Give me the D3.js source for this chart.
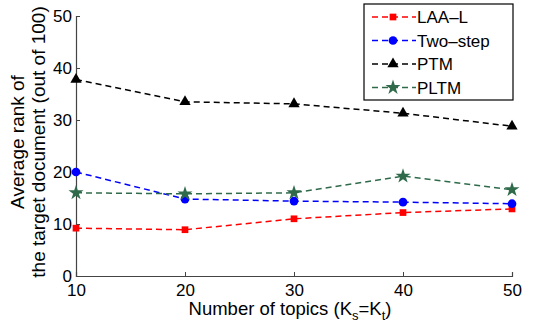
<!DOCTYPE html>
<html>
<head>
<meta charset="utf-8">
<script src="https://cdn.jsdelivr.net/npm/d3@7"></script>
<style>
  body { margin: 0; background: #fff; }
  text { font-family: "Liberation Sans", Arial, sans-serif; fill: #000; }
</style>
</head>
<body>
<div id="app"></div>
<script>
const TOPICS = [10, 20, 30, 40, 50];
const LAA_L = [9.2, 8.9, 11.0, 12.2, 12.9];
const TWO_STEP = [20.0, 14.8, 14.4, 14.2, 13.9];
const PTM = [37.8, 33.5, 33.1, 31.3, 28.8];
const PLTM = [16.0, 15.8, 16.0, 19.2, 16.6];
const Y_TICKS = [0, 10, 20, 30, 40, 50];

const series = [
  {name: "LAA\u2013L", values: LAA_L, color: "#ff0000", symbol: d3.symbolSquare, size: 45},
  {name: "Two\u2013step", values: TWO_STEP, color: "#0000ff", symbol: d3.symbolCircle, size: 60},
  {name: "PTM", values: PTM, color: "#000000", symbol: d3.symbolTriangle, size: 55},
  {name: "PLTM", values: PLTM, color: "#2f6b4a", symbol: d3.symbolStar, size: 70}
];

const W = 534, H = 325;
const margin = {top: 16, right: 22, bottom: 49, left: 76}
    , width = W - margin.left - margin.right
    , height = H - margin.top - margin.bottom;

const x = d3.scaleLinear().domain([10, 50]).range([0, width]);
const y = d3.scaleLinear().domain([0, 50]).range([height, 0]);

const svg = d3.select("#app").append("svg")
    .attr("width", W)
    .attr("height", H)
  .append("g")
    .attr("transform", `translate(${margin.left}, ${margin.top})`);

// axes (matlab style, ticks pointing inward)
const xAxis = svg.append("g")
    .attr("transform", `translate(0, ${height})`)
    .call(d3.axisBottom(x).tickValues(TOPICS).tickSize(-4).tickPadding(8).tickFormat(d3.format("d")));

const yAxis = svg.append("g")
    .call(d3.axisLeft(y).tickValues(Y_TICKS).tickSize(-4).tickPadding(4));

[xAxis, yAxis].forEach(a => {
  a.select(".domain").attr("stroke", "#444").attr("stroke-width", 1.2);
  a.selectAll(".tick line").attr("stroke", "#444");
  a.selectAll("text").style("font-size", "17px").attr("fill", "#000");
});
xAxis.selectAll("text").attr("dy", "0.72em");

// lines + markers
const line = d3.line()
    .x((d, i) => x(TOPICS[i]))
    .y(d => y(d));

series.forEach(s => {
  svg.append("path")
      .datum(s.values)
      .attr("fill", "none")
      .attr("stroke", s.color)
      .attr("stroke-width", 1.5)
      .attr("stroke-dasharray", "6,4")
      .attr("d", line);

  svg.selectAll(null)
      .data(s.values)
    .enter().append("path")
      .attr("transform", (d, i) => `translate(${x(TOPICS[i])}, ${y(d)})`)
      .attr("d", d3.symbol(s.symbol, s.size))
      .attr("fill", s.color);
});

// axis labels
svg.append("text")
    .attr("x", width / 2 - 4)
    .attr("y", height + 39)
    .style("text-anchor", "middle")
    .style("font-size", "18.5px")
    .html('Number of topics (K<tspan dy="5" font-size="13px">s</tspan><tspan dy="-5">=K</tspan><tspan dy="5" font-size="13px">t</tspan><tspan dy="-5">)</tspan>');

const yl = svg.append("text")
    .attr("transform", `translate(${-margin.left + 24}, ${height / 2 - 4}) rotate(-90)`)
    .style("text-anchor", "middle")
    .style("font-size", "19px");
yl.append("tspan").attr("x", 0).attr("dy", 0).text("Average rank of");
yl.append("tspan").attr("x", 0).attr("dy", "1.1em").text("the target document (out of 100)");

// legend
const lg = svg.append("g")
    .attr("transform", `translate(${364 - margin.left}, ${4 - margin.top})`);

lg.append("rect")
    .attr("width", 149)
    .attr("height", 96)
    .attr("fill", "#fff")
    .attr("stroke", "#000")
    .attr("stroke-width", 1.2);

const rows = lg.selectAll(".legend")
    .data(series)
  .enter().append("g")
    .attr("class", "legend")
    .attr("transform", (d, i) => `translate(0, ${13 + i * 23.5})`);

rows.append("line")
    .attr("x1", 8).attr("x2", 52)
    .attr("stroke", d => d.color)
    .attr("stroke-width", 1.5)
    .attr("stroke-dasharray", "6,4");

rows.append("path")
    .attr("transform", "translate(29, 0)")
    .attr("d", d => d3.symbol(d.symbol, d.size)())
    .attr("fill", d => d.color);

rows.append("text")
    .attr("x", 53)
    .attr("dy", "0.36em")
    .style("font-size", "17px")
    .text(d => d.name);
</script>
</body>
</html>
